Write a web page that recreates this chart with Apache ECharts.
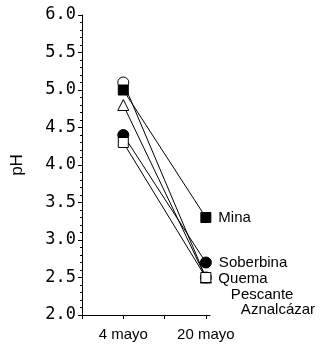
<!DOCTYPE html>
<html><head><meta charset="utf-8">
<script src="https://cdn.jsdelivr.net/npm/echarts@6/dist/echarts.min.js"></script>
<style>html,body{margin:0;padding:0;background:#fff}#c{width:329px;height:349px}</style>
</head><body><div id="c"></div>
<script>
// Data
const categories = ['4 mayo', '20 mayo'];
const categoryX = [1, 3];
const siteNames = ['Aznalcázar', 'Pescante', 'Soberbina', 'Mina', 'Quema'];
const aznalcazar = [5.1, 2.5];
const pescante = [4.8, 2.5];
const soberbina = [4.4, 2.7];
const mina = [5.0, 3.3];
const quema = [4.3, 2.5];
const yTicks = [2.0, 2.5, 3.0, 3.5, 4.0, 4.5, 5.0, 5.5, 6.0];

const values = [aznalcazar, pescante, soberbina, mina, quema];
const symbols = ['circle', 'triangle', 'circle', 'rect', 'rect'];
const fills = ['#fff', '#fff', '#000', '#000', '#fff'];
const labelOffsets = [[22, 32], [12, 17], [0, 0], [0, 0], [0, 1]];

const chart = echarts.init(document.getElementById('c'), null, {renderer: 'canvas'});
const series = values.map((vals, i) => ({
  type: 'line',
  name: siteNames[i],
  data: vals.map((v, j) => [categoryX[j], v]),
  symbol: symbols[i],
  symbolSize: symbols[i] === 'triangle' ? 11 : (symbols[i] === 'rect' ? 10 : 11),
  showAllSymbol: true,
  lineStyle: {color: '#000', width: 1},
  itemStyle: {color: fills[i], borderColor: '#000', borderWidth: 1},
  z: 2 + i,
  animation: false,
  label: {
    show: true,
    position: 'right',
    distance: 7,
    offset: labelOffsets[i],
    formatter: (p) => p.dataIndex === vals.length - 1 ? siteNames[i] : '',
    fontFamily: 'Liberation Sans, Arial, sans-serif',
    fontSize: 15,
    color: '#000'
  },
  emphasis: {disabled: true}
}));

chart.setOption({
  animation: false,
  backgroundColor: '#fff',
  grid: {left: 82, top: 15, right: 119, bottom: 34, containLabel: false},
  xAxis: {
    type: 'value', min: 0, max: 3.1, interval: 1,
    axisLine: {show: true, onZero: false, lineStyle: {color: '#000', width: 1}},
    axisTick: {show: true, length: 4, lineStyle: {color: '#000'}, customValues: [0, 1, 2, 3]},
    axisLabel: {
      customValues: categoryX,
      formatter: (v) => { const k = categoryX.indexOf(v); return k >= 0 ? categories[k] : ''; },
      color: '#000', fontSize: 15, margin: 12,
      fontFamily: 'Liberation Sans, Arial, sans-serif'
    },
    splitLine: {show: false}
  },
  yAxis: {
    type: 'value', min: yTicks[0], max: yTicks[yTicks.length - 1], interval: 0.5,
    name: 'pH', nameLocation: 'middle', nameGap: 56, nameRotate: 90,
    nameTextStyle: {color: '#000', fontSize: 17, fontFamily: 'Liberation Sans, Arial, sans-serif'},
    axisLine: {show: true, lineStyle: {color: '#000', width: 1}},
    axisTick: {show: true, length: 4, lineStyle: {color: '#000'}},
    minorTick: {show: true, splitNumber: 5, length: 2, lineStyle: {color: '#000'}},
    axisLabel: {
      formatter: (v) => v.toFixed(1), color: '#000', fontSize: 17, margin: 6,
      fontFamily: 'DejaVu Sans Mono, monospace'
    },
    splitLine: {show: false}
  },
  series: series
});
</script></body></html>
